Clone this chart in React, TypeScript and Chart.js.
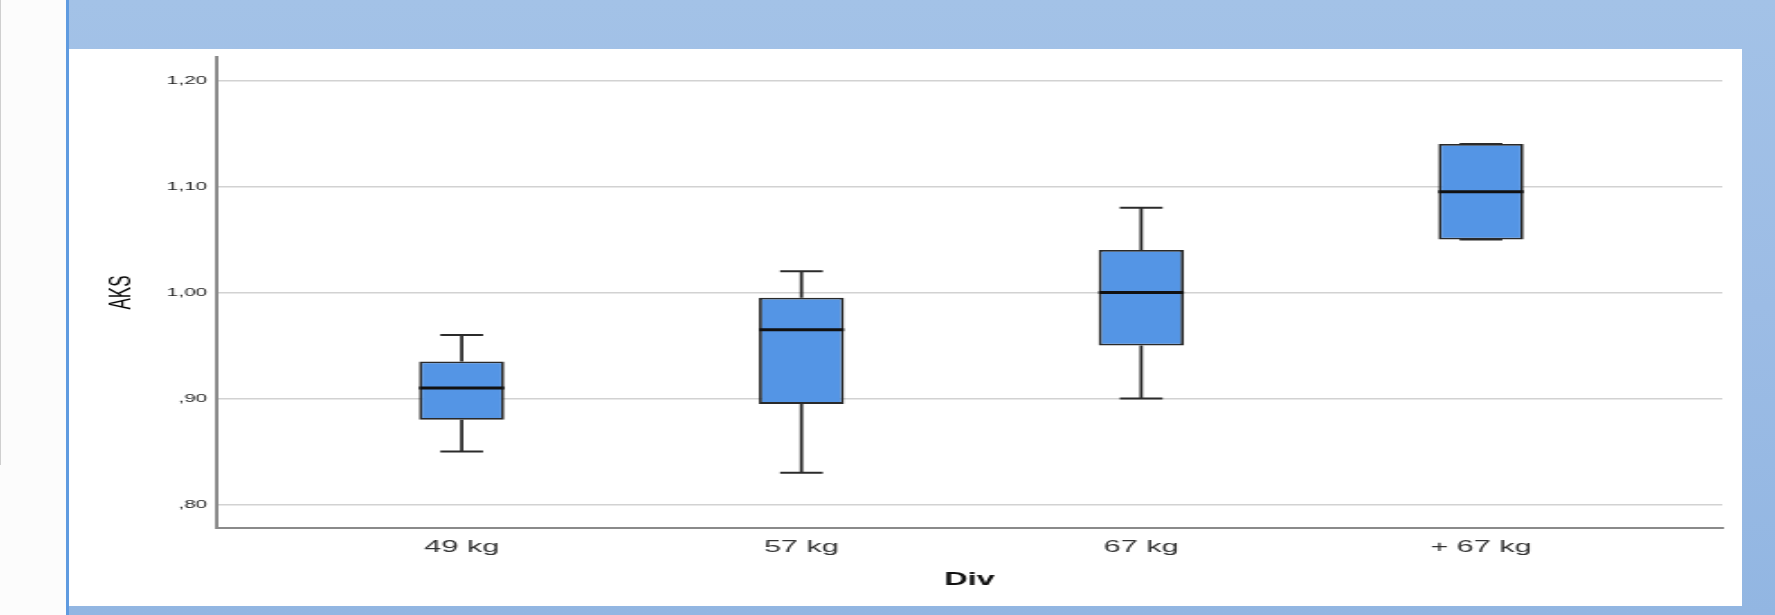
import { useEffect, useRef } from 'react';
import { Chart, registerables } from 'chart.js';

Chart.register(...registerables);

// ---- data ----
const categories = ['49 kg', '57 kg', '67 kg', '+ 67 kg'];
const mins = [0.85, 0.83, 0.9, 1.05];
const q1s = [0.88, 0.895, 0.95, 1.05];
const medians = [0.91, 0.965, 1.0, 1.095];
const q3s = [0.935, 0.995, 1.04, 1.14];
const maxs = [0.96, 1.02, 1.08, 1.14];
const yTickValues = [0.8, 0.9, 1.0, 1.1, 1.2];
const yTickLabels = [',80', ',90', '1,00', '1,10', '1,20'];
const yTitle = 'AKS';
const xTitle = 'Div';

// ---- layout / style ----
const PANEL_LEFT = 69;
const PANEL_TOP = 49;
const PANEL_W = 1673;
const PANEL_H = 557;
const CANVAS_W = 929;
const STRETCH = PANEL_W / CANVAS_W;
const BOX_HALF = 0.1255;
const CAP_HALF = 0.063;
const FONT = '"Liberation Sans", Arial, Helvetica, sans-serif';

export default function App() {
  const ref = useRef<HTMLCanvasElement | null>(null);

  useEffect(() => {
    if (!ref.current) return;
    const xs = categories.map((_, i) => i + 1);
    const boxData = xs.map((x, i) => ({ x, y: [q1s[i], q3s[i]] }));
    const whiskerData = xs.flatMap((x, i) => [
      { x, y: mins[i] }, { x, y: q1s[i] }, { x, y: null },
      { x, y: q3s[i] }, { x, y: maxs[i] }, { x, y: null },
    ]);
    const capData = xs.flatMap((x, i) => [
      { x: x - CAP_HALF, y: mins[i] }, { x: x + CAP_HALF, y: mins[i] }, { x, y: null },
      { x: x - CAP_HALF, y: maxs[i] }, { x: x + CAP_HALF, y: maxs[i] }, { x, y: null },
    ]);
    const medianData = xs.flatMap((x, i) => [
      { x: x - BOX_HALF, y: medians[i] }, { x: x + BOX_HALF, y: medians[i] }, { x, y: null },
    ]);

    const chart = new Chart(ref.current, {
      type: 'bar',
      data: {
        datasets: [
          {
            type: 'line',
            data: medianData as any,
            borderColor: '#111111',
            borderWidth: 3,
            pointRadius: 0,
            fill: false,
            spanGaps: false,
            order: 0,
          } as any,
          {
            type: 'line',
            data: capData as any,
            borderColor: '#2b2b2b',
            borderWidth: 2,
            pointRadius: 0,
            fill: false,
            spanGaps: false,
            order: 1,
          } as any,
          {
            type: 'line',
            data: whiskerData as any,
            borderColor: '#2b2b2b',
            borderWidth: 1.8,
            pointRadius: 0,
            fill: false,
            spanGaps: false,
            order: 2,
          } as any,
          {
            type: 'bar',
            data: boxData as any,
            backgroundColor: 'rgb(84,149,229)',
            borderColor: '#2a2a2a',
            borderWidth: 1.8,
            borderSkipped: false,
            barPercentage: BOX_HALF * 2,
            categoryPercentage: 1,
            order: 3,
          } as any,
        ],
      },
      options: {
        animation: false,
        responsive: true,
        maintainAspectRatio: false,
        layout: { padding: { left: 0, right: 11, top: 8, bottom: 0 } },
        plugins: { legend: { display: false }, tooltip: { enabled: false } },
        scales: {
          x: {
            type: 'linear',
            min: 0.28,
            max: 4.71,
            offset: false,
            grid: { display: false, drawTicks: false },
            border: { display: true, color: '#8a8a8a', width: 2 },
            afterBuildTicks: (scale: any) => {
              scale.ticks = categories.map((_, i) => ({ value: i + 1 }));
            },
            afterFit: (scale: any) => {
              scale.height = 78;
              scale.paddingLeft = 0;
              scale.paddingRight = 0;
            },
            ticks: {
              padding: 9,
              color: '#333333',
              font: { family: FONT, size: 17 },
              callback: (_v: any, i: number) => categories[i],
            },
            title: {
              display: true,
              text: xTitle,
              color: '#111111',
              font: { family: FONT, size: 18, weight: 'bold' },
              padding: { top: 0, bottom: 15 },
            },
          },
          y: {
            type: 'linear',
            min: 0.778,
            max: 1.222,
            grid: { color: '#d2d2d2', lineWidth: 1.4, drawTicks: false },
            border: { display: true, color: '#8a8a8a', width: 2 },
            afterBuildTicks: (scale: any) => {
              scale.ticks = yTickValues.map((value) => ({ value }));
            },
            afterFit: (scale: any) => {
              scale.width = 82.2;
              scale.paddingTop = 0;
              scale.paddingBottom = 0;
            },
            ticks: {
              padding: 5.5,
              color: '#1f1f1f',
              font: { family: FONT, size: 11.5 },
              callback: (_v: any, i: number) => yTickLabels[i],
            },
            title: {
              display: true,
              text: yTitle,
              color: '#000000',
              font: { family: FONT, size: 17 },
              padding: { top: 19.5, bottom: 0 },
            },
          },
        },
      } as any,
    });
    return () => chart.destroy();
  }, []);

  return (
    <div style={{ position: 'fixed', left: 0, top: 0, width: 1775, height: 615, background: '#fcfcfc', overflow: 'hidden' }}>
      <div style={{ position: 'absolute', left: 0, top: 0, width: 1, height: 465, background: '#cfcfcf' }} />
      <div
        style={{
          position: 'absolute', left: 66, top: 0, width: 1709, height: 615,
          background: 'linear-gradient(to bottom, #a3c2e7 0%, #9cbce5 50%, #92b6e2 100%)',
        }}
      />
      <div style={{ position: 'absolute', left: 66, top: 0, width: 3, height: 615, background: '#5f9be0' }} />
      <div
        style={{
          position: 'absolute', left: PANEL_LEFT, top: PANEL_TOP, width: PANEL_W, height: PANEL_H,
          background: '#ffffff', overflow: 'hidden',
        }}
      >
        <div
          style={{
            position: 'relative', width: CANVAS_W, height: PANEL_H,
            transform: `scaleX(${STRETCH})`, transformOrigin: '0 0',
          }}
        >
          <canvas ref={ref} style={{ display: 'block' }} />
        </div>
      </div>
    </div>
  );
}
